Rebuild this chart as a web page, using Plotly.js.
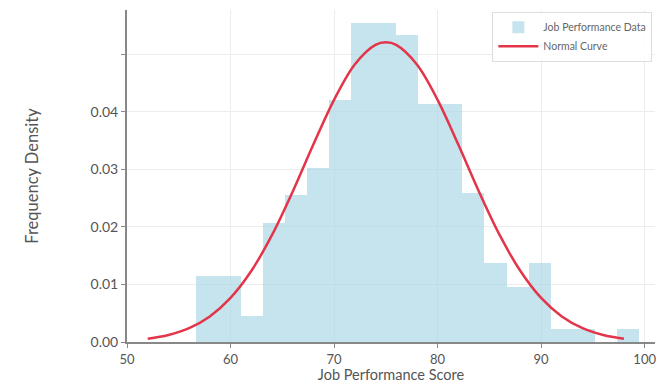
<!DOCTYPE html>
<html>
<head>
<meta charset="utf-8">
<script src="https://cdn.plot.ly/plotly-3.0.1.min.js"></script>
<style>html,body{margin:0;padding:0;background:#fff;}#chart{width:656px;height:383px;}</style>
</head>
<body>
<div id="chart"></div>
<script>
// Histogram bins (density)
var binStart = 56.7;
var binWidth = 2.14;
var binDensity = [0.0115, 0.0115, 0.0045, 0.0207, 0.0255, 0.0303, 0.0420, 0.0555, 0.0555, 0.0534,
                  0.0414, 0.0414, 0.0259, 0.0137, 0.0096, 0.0137, 0.0023, 0.0023, 0.0000, 0.0023];

// Normal curve points
var curveX = [52, 54, 56, 58, 60, 62, 64, 66, 68, 70, 72, 74, 75, 76, 78, 80, 82, 84, 86, 88, 90, 92, 94, 96, 98];
var curveY = [0.00057, 0.00122, 0.00240, 0.00444, 0.00766, 0.01234, 0.01857, 0.02612, 0.03431, 0.04209,
              0.04824, 0.05164, 0.05208, 0.05164, 0.04824, 0.04209, 0.03431, 0.02612, 0.01857, 0.01234,
              0.00766, 0.00444, 0.00240, 0.00122, 0.00057];

var xTicks = [50, 60, 70, 80, 90, 100];
var yTicks = [0, 0.01, 0.02, 0.03, 0.04, 0.05];
var yTickText = ["0.00", "0.01", "0.02", "0.03", "0.04", ""];

var binCenters = binDensity.map(function (_, i) { return binStart + binWidth * (i + 0.5); });

var traces = [
  {
    type: 'bar',
    name: 'Job Performance Data',
    x: binCenters,
    y: binDensity,
    width: binWidth,
    marker: {color: 'rgba(173,216,230,0.7)', line: {width: 0}},
    hoverinfo: 'x+y'
  },
  {
    type: 'scatter',
    mode: 'lines',
    name: 'Normal Curve',
    x: curveX,
    y: curveY,
    line: {color: '#e3344a', width: 2.5, shape: 'spline'}
  }
];

var layout = {
  width: 656,
  height: 383,
  margin: {l: 127, r: 1, t: 10, b: 41},
  paper_bgcolor: '#fff',
  plot_bgcolor: '#fff',
  font: {family: 'Lato, "Open Sans", sans-serif', color: '#555', size: 13},
  showlegend: true,
  bargap: 0,
  xaxis: {
    range: [50, 101],
    tickvals: xTicks,
    ticktext: xTicks.map(String),
    ticklabeloverflow: 'allow',
    showgrid: true,
    gridcolor: '#ececec',
    gridwidth: 1,
    zeroline: false,
    showline: true,
    linecolor: '#888',
    linewidth: 2,
    ticks: 'outside',
    ticklen: 4,
    tickcolor: '#888',
    tickfont: {size: 13, color: '#555'},
    title: {text: 'Job Performance Score', font: {size: 14.5, color: '#555'}, standoff: 3}
  },
  yaxis: {
    range: [0, 0.0577],
    tickvals: yTicks,
    ticktext: yTickText,
    showgrid: true,
    gridcolor: '#ececec',
    gridwidth: 1,
    zeroline: false,
    showline: true,
    linecolor: '#888',
    linewidth: 2,
    ticks: 'outside',
    ticklen: 4,
    tickcolor: '#888',
    tickfont: {size: 14, color: '#555'},
    title: {text: 'Frequency Density', font: {size: 16.5, color: '#555'}, standoff: 48}
  },
  legend: {
    x: 0.995, y: 0.995, xanchor: 'right', yanchor: 'top',
    bgcolor: 'rgba(255,255,255,0.9)',
    bordercolor: '#ddd',
    borderwidth: 1,
    font: {size: 10.5, color: '#666'},
    itemwidth: 40,
    tracegroupgap: 0
  }
};

Plotly.newPlot('chart', traces, layout, {displayModeBar: false, staticPlot: true});
</script>
</body>
</html>
